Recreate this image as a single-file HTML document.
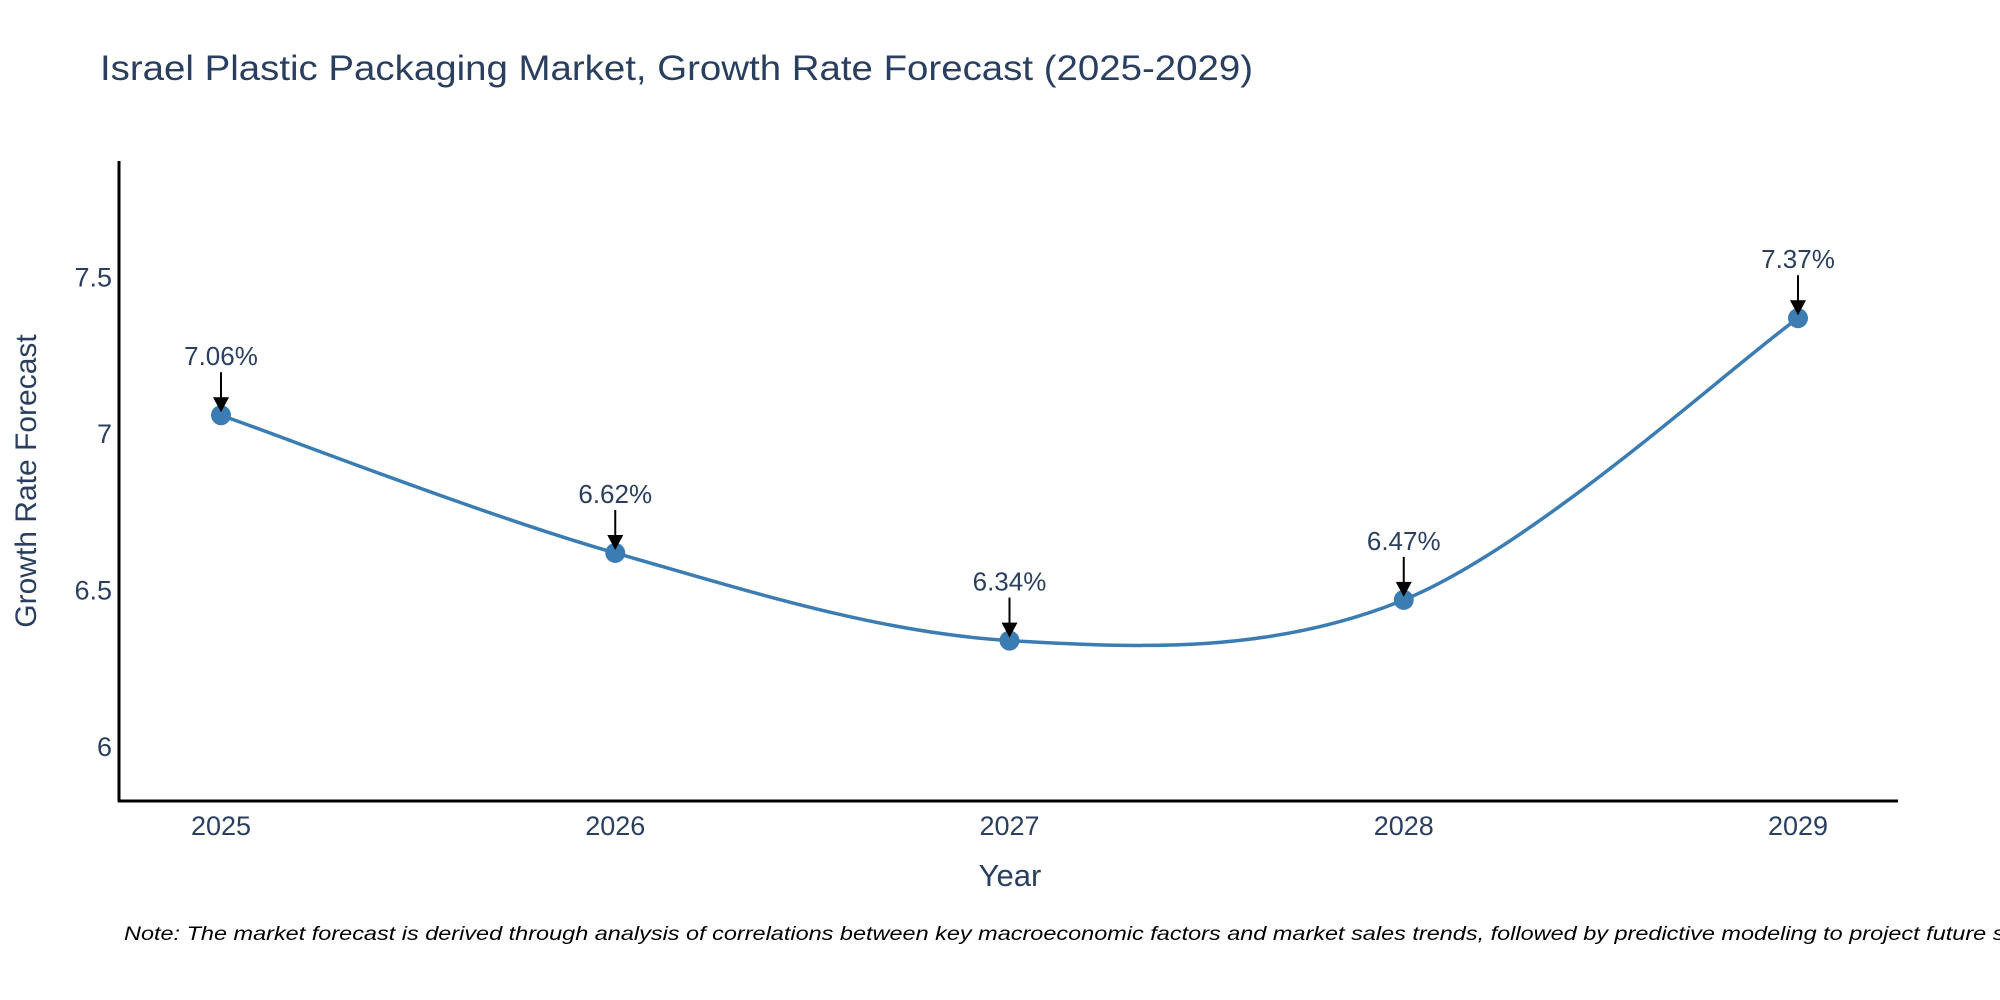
<!DOCTYPE html>
<html><head><meta charset="utf-8"><style>
html,body{margin:0;padding:0;background:#fff;width:2000px;height:1000px;overflow:hidden}
svg text{font-family:"Liberation Sans",sans-serif}
</style></head><body>
<svg id="chart" width="2000" height="1000" xmlns="http://www.w3.org/2000/svg">
<text x="100" y="80" font-size="35" fill="#2a3f5f" textLength="1153" lengthAdjust="spacingAndGlyphs">Israel Plastic Packaging Market, Growth Rate Forecast (2025-2029)</text>
<g id="yticks"></g>
<g id="xticks"></g>
<g id="series"></g>
<g id="annots"></g>
<line x1="119" y1="161" x2="119" y2="802" stroke="#000" stroke-width="3"/>
<line x1="118" y1="801" x2="1898" y2="801" stroke="#000" stroke-width="3"/>
<text x="1010" y="886" font-size="31" fill="#2a3f5f" text-anchor="middle">Year</text>
<text transform="translate(36,481) rotate(-90)" font-size="30" fill="#2a3f5f" text-anchor="middle">Growth Rate Forecast</text>
<text x="124" y="940" font-size="19" font-style="italic" fill="#000" textLength="1930" lengthAdjust="spacingAndGlyphs">Note: The market forecast is derived through analysis of correlations between key macroeconomic factors and market sales trends, followed by predictive modeling to project future sales.</text>
</svg>
<script>
const years = [2025, 2026, 2027, 2028, 2029];
const values = [7.06, 6.62, 6.34, 6.47, 7.37];
const labels = ["7.06%", "6.62%", "6.34%", "6.47%", "7.37%"];
const yTickValues = [6, 6.5, 7, 7.5];
const yTickLabels = ["6", "6.5", "7", "7.5"];

const NS = "http://www.w3.org/2000/svg";
function X(v){ return 221 + (v - 2025) * 394.25; }
function Y(v){ return 747 - (v - 6) * 313; }
function mk(tag, attrs, parent){
  const e = document.createElementNS(NS, tag);
  for (const k in attrs) e.setAttribute(k, attrs[k]);
  parent.appendChild(e); return e;
}
const yt = document.getElementById('yticks');
yTickValues.forEach((v,i)=>{
  const t = mk('text',{x:112,y:Y(v)+9,'font-size':27,fill:'#2a3f5f','text-anchor':'end'},yt);
  
  
  t.textContent = yTickLabels[i];
});
const xt = document.getElementById('xticks');
years.forEach(v=>{
  const t = mk('text',{x:X(v),y:835,'font-size':27,fill:'#2a3f5f','text-anchor':'middle'},xt);
  
  
  t.textContent = String(v);
});
const pts = years.map((y,i)=>[X(y),Y(values[i])]);
let d = `M${pts[0][0]},${pts[0][1]}`;
for (let i=0;i<pts.length-1;i++){
  const p0 = pts[i-1]||pts[i], p1=pts[i], p2=pts[i+1], p3=pts[i+2]||pts[i+1];
  const c1=[p1[0]+(p2[0]-p0[0])/6, p1[1]+(p2[1]-p0[1])/6];
  const c2=[p2[0]-(p3[0]-p1[0])/6, p2[1]-(p3[1]-p1[1])/6];
  d += ` C${c1[0]},${c1[1]} ${c2[0]},${c2[1]} ${p2[0]},${p2[1]}`;
}
const sg = document.getElementById('series');
const line = mk('path',{d:d,fill:'none',stroke:'#3b7db3','stroke-width':3.5},sg);


const ag = document.getElementById('annots');
pts.forEach((p,i)=>{
  const c = mk('circle',{cx:p[0],cy:p[1],r:10,fill:'#3b7db3'},sg);
  
  
  const l = mk('line',{x1:p[0],y1:p[1]-43,x2:p[0],y2:p[1]-14,stroke:'#000','stroke-width':2},ag);
  
  
  const h = mk('polygon',{points:`${p[0]-8},${p[1]-18} ${p[0]+8},${p[1]-18} ${p[0]},${p[1]-3}`,fill:'#000'},ag);
  
  
  const t = mk('text',{x:p[0],y:p[1]-50,'font-size':26,fill:'#2a3f5f','text-anchor':'middle'},ag);
  
  
  t.textContent = labels[i];
});
</script>
</body></html>
